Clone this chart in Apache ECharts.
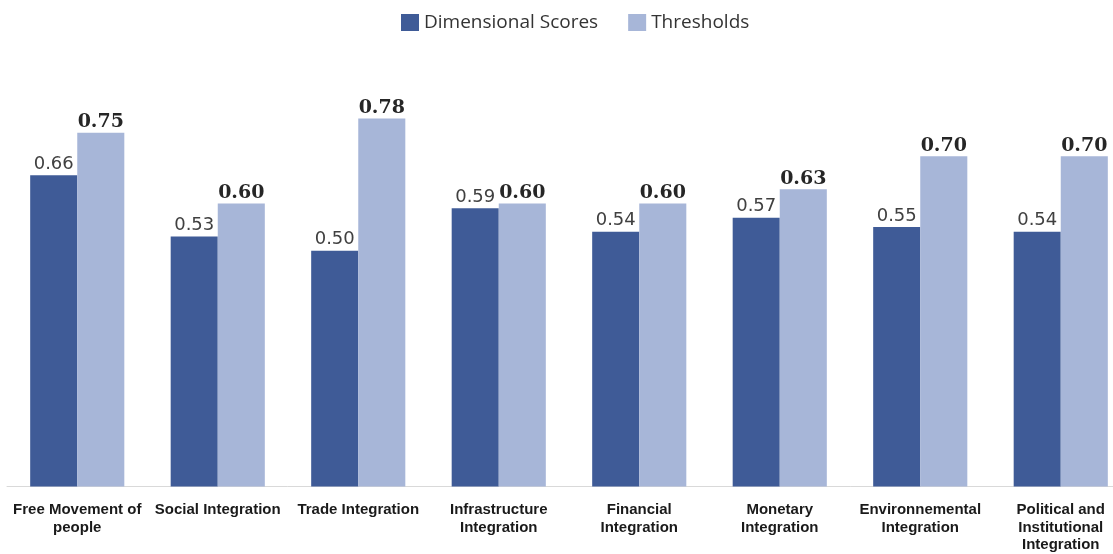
<!DOCTYPE html>
<html>
<head>
<meta charset="utf-8">
<script src="https://cdn.jsdelivr.net/npm/echarts@6/dist/echarts.min.js"></script>
<style>
  html, body { margin: 0; padding: 0; background: #fff; overflow: hidden; }
  /* the original chart is cut at the right edge, so the canvas runs past the window */
  #chart { width: 1131px; height: 554px; }
</style>
</head>
<body>
<div id="chart"></div>
<script>
const categories = [
  'Free Movement of\npeople',
  'Social Integration',
  'Trade Integration',
  'Infrastructure\nIntegration',
  'Financial\nIntegration',
  'Monetary\nIntegration',
  'Environnemental\nIntegration',
  'Political and\nInstitutional\nIntegration'
]
const dimensionalScores = [0.66, 0.53, 0.50, 0.59, 0.54, 0.57, 0.55, 0.54]
const thresholds = [0.75, 0.60, 0.78, 0.60, 0.60, 0.63, 0.70, 0.70]

const chart = echarts.init(document.getElementById('chart'))

const option = {
  animation: false,
  legend: {
    data: ['Dimensional Scores', 'Thresholds'],
    top: 8,
    left: 396,
    itemWidth: 18,
    itemHeight: 17,
    itemGap: 30,
    icon: 'rect',
    textStyle: {
      fontFamily: 'Open Sans',
      fontSize: 19,
      color: '#333'
    }
  },
  grid: {
    left: 7,
    right: 0,
    top: 62,
    bottom: 65
  },
  xAxis: {
    type: 'category',
    data: categories,
    axisLine: { lineStyle: { color: '#d9d9d9', width: 1 } },
    axisTick: { show: false },
    axisLabel: {
      interval: 0,
      margin: 15,
      fontFamily: 'Liberation Sans',
      fontWeight: 'bold',
      fontSize: 15,
      lineHeight: 17.5,
      color: '#1a1a1a'
    }
  },
  yAxis: {
    type: 'value',
    min: 0,
    max: 0.9,
    show: false,
    splitLine: { show: false }
  },
  series: [
    {
      name: 'Dimensional Scores',
      type: 'bar',
      data: dimensionalScores,
      barGap: '0%',
      barCategoryGap: '33%',
      itemStyle: { color: '#3f5b97' },
      label: {
        show: true,
        position: 'top',
        distance: 2,
        formatter: p => p.value.toFixed(2),
        fontFamily: 'DejaVu Sans',
        fontSize: 18,
        color: '#404040'
      }
    },
    {
      name: 'Thresholds',
      type: 'bar',
      data: thresholds,
      itemStyle: { color: '#a7b6d8' },
      label: {
        show: true,
        position: 'top',
        distance: 1,
        formatter: p => p.value.toFixed(2),
        fontFamily: 'DejaVu Serif',
        fontWeight: 'bold',
        fontSize: 19,
        color: '#262626'
      }
    }
  ]
}

chart.setOption(option)
</script>
</body>
</html>
